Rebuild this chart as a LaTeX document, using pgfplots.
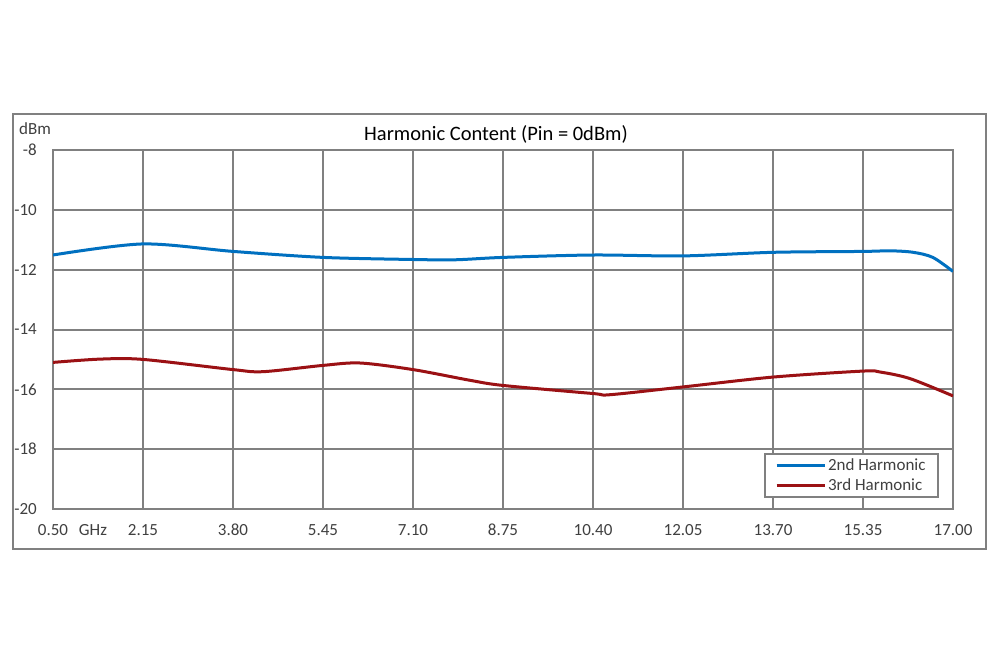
\documentclass[border=0pt]{standalone}
\usepackage{pgfplots}
\pgfplotsset{compat=1.18}
\usepackage{fontspec}
\setmainfont{Carlito}
\definecolor{gridgray}{RGB}{128,128,128}
\definecolor{blueH}{RGB}{0,112,192}
\definecolor{redH}{RGB}{155,17,20}
\definecolor{txt}{RGB}{64,64,64}
\begin{document}
\begin{tikzpicture}[x=1pt,y=1pt]
\fill[white] (0,0) rectangle (1000,667);
\draw[gridgray, line width=2pt] (13,118) rectangle (986,553);
\begin{axis}[at={(53pt,158pt)}, anchor=south west, scale only axis,
  width=900pt, height=359pt,
  xmin=0.5, xmax=17, ymin=-20, ymax=-8,
  xtick={0.5,2.15,3.8,5.45,7.1,8.75,10.4,12.05,13.7,15.35,17},
  xticklabels={0.50,2.15,3.80,5.45,7.10,8.75,10.40,12.05,13.70,15.35,17.00},
  ytick={-20,-18,-16,-14,-12,-10,-8},
  yticklabels={-20,-18,-16,-14,-12,-10,-8},
  grid=major, major grid style={gridgray, line width=2pt},
  axis line style={gridgray, line width=2pt},
  major tick length=0pt,
  tick label style={font=\fontsize{17}{20}\selectfont, text=txt},
  xticklabel style={anchor=base, inner sep=0pt, yshift=-26.5pt},
  yticklabel style={anchor=east, inner sep=0pt, xshift=-16pt},
  legend style={at={(0.79,0.031)}, anchor=south west, draw=gridgray, line width=2pt,
    font=\fontsize{17}{20}\selectfont, text=txt, inner xsep=10pt, inner ysep=2.5pt, row sep=3pt},
  legend cell align=left,
  legend image code/.code={\draw[#1] (0pt,0pt) -- (48pt,0pt);},
]
\addplot[blueH, line width=3pt, smooth] coordinates {
(0.5,-11.51) (2.15,-11.14) (3.80,-11.39) (5.45,-11.59) (7.10,-11.66) (7.87,-11.67)
(8.75,-11.59) (10.40,-11.51) (12.05,-11.54) (13.70,-11.42) (15.35,-11.39) (15.85,-11.37)
(16.27,-11.42) (16.63,-11.59) (17.00,-12.06)};
\addlegendentry{2nd Harmonic}
\addplot[redH, line width=3pt, smooth] coordinates {
(0.5,-15.10) (1.36,-14.99) (2.15,-15.00) (3.80,-15.34) (4.35,-15.41) (5.45,-15.20)
(6.13,-15.12) (7.10,-15.34) (8.15,-15.70) (8.75,-15.87) (10.40,-16.14) (10.71,-16.18)
(12.05,-15.92) (13.70,-15.59) (15.35,-15.39) (15.66,-15.42) (16.21,-15.64) (17.00,-16.22)};
\addlegendentry{3rd Harmonic}
\end{axis}
\node[font=\fontsize{17}{20}\selectfont, text=txt] at (93,137) {GHz};
\node[font=\fontsize{17}{20}\selectfont, text=txt] at (35,538) {dBm};
\node[font=\fontsize{20.5}{24}\selectfont, text=black] at (496,533) {Harmonic Content (Pin = 0dBm)};
\end{tikzpicture}
\end{document}
